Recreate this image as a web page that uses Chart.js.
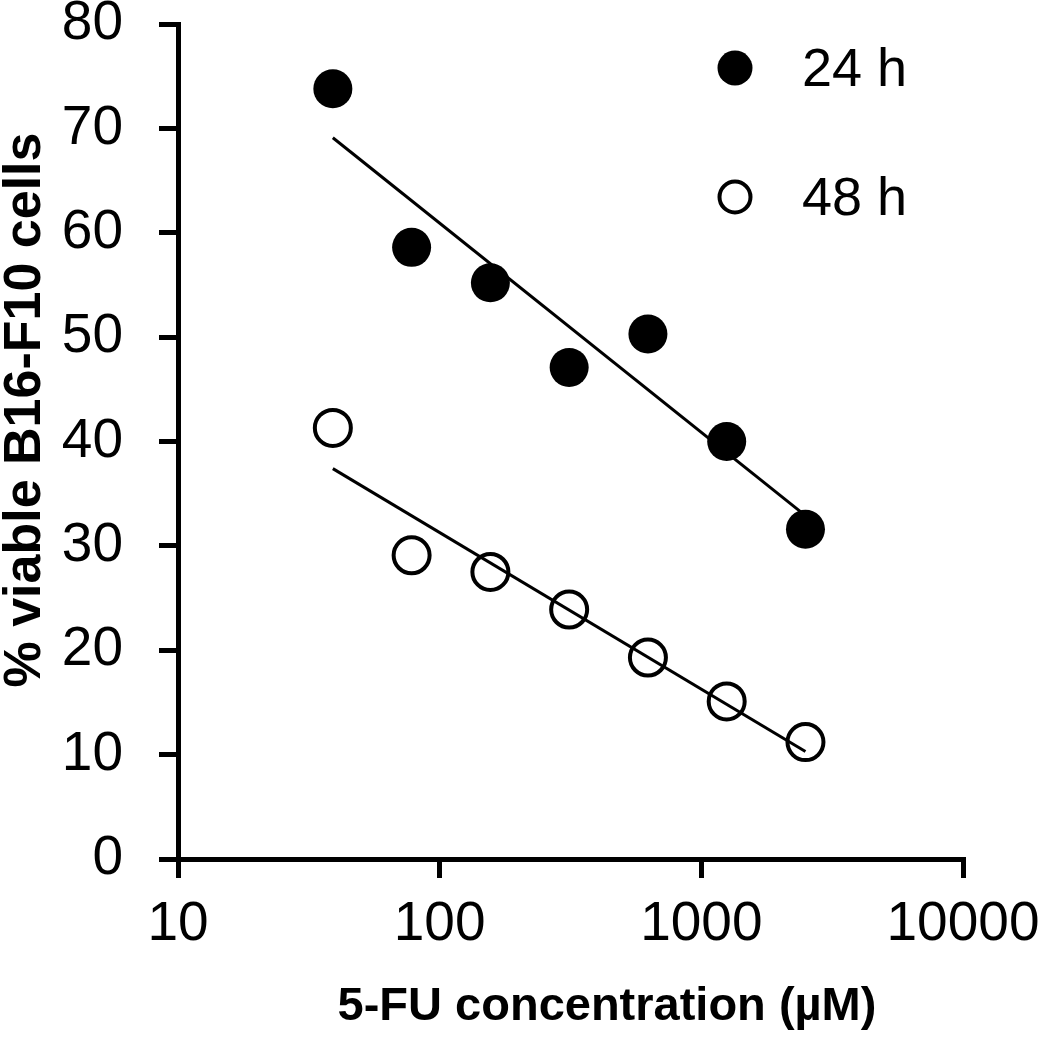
<!DOCTYPE html>
<html>
<head>
<meta charset="utf-8">
<script src="https://cdn.jsdelivr.net/npm/chart.js@4"></script>
<style>
  body { margin: 0; background: #fff; }
  #wrap { width: 1050px; height: 1039px; position: relative; }
</style>
</head>
<body>
<div id="wrap"><canvas id="chart"></canvas></div>
<script>
// data
const concentrations = [39.0625, 78.125, 156.25, 312.5, 625, 1250, 2500];
const viable24h = [73.8, 58.6, 55.2, 47.1, 50.3, 40.0, 31.6];
const viable48h = [41.3, 29.1, 27.5, 23.9, 19.3, 15.1, 11.2];
// fitted lines, endpoints at first and last concentration
const fitX = [39.0625, 2500];
const fit24h = [69.1, 32.9];
const fit48h = [37.4, 10.3];
const xTicks = [10, 100, 1000, 10000];
const seriesNames = ['24 h', '48 h'];

const FONT = "'Liberation Sans', Arial, sans-serif";

const toPoints = (xs, ys) => xs.map((x, i) => ({ x: x, y: ys[i] }));

// axis titles + legend drawn on top of the chart
const extras = {
  id: 'extras',
  afterDraw(chart) {
    const ctx = chart.ctx;
    ctx.save();
    ctx.fillStyle = '#000';
    ctx.textBaseline = 'alphabetic';

    // x title
    ctx.font = 'bold 47px ' + FONT;
    ctx.textAlign = 'center';
    ctx.fillText('5-FU concentration (µM)', 607, 1020);

    // y title
    ctx.save();
    ctx.translate(40, 410);
    ctx.rotate(-Math.PI / 2);
    ctx.font = 'bold 52px ' + FONT;
    ctx.fillText('% viable B16-F10 cells', 0, 0);
    ctx.restore();

    // legend
    const rows = [68, 197];
    ctx.font = '54px ' + FONT;
    ctx.textAlign = 'left';
    rows.forEach((cy, i) => {
      ctx.beginPath();
      if (i === 0) {
        ctx.arc(735, cy, 17.5, 0, Math.PI * 2);
        ctx.fill();
      } else {
        ctx.arc(735, cy, 15.5, 0, Math.PI * 2);
        ctx.lineWidth = 4;
        ctx.strokeStyle = '#000';
        ctx.stroke();
      }
      ctx.fillText(seriesNames[i], 802, cy + 18);
    });
    ctx.restore();
  }
};

const axisGrid = {
  drawOnChartArea: false,
  drawTicks: true,
  tickLength: 19,
  color: '#000',
  lineWidth: 5
};

new Chart(document.getElementById('chart'), {
  data: {
    datasets: [
      {
        type: 'scatter',
        label: seriesNames[0],
        data: toPoints(concentrations, viable24h),
        pointRadius: 19.5,
        pointBackgroundColor: '#000',
        pointBorderColor: '#000',
        pointBorderWidth: 0
      },
      {
        type: 'scatter',
        label: seriesNames[1],
        data: toPoints(concentrations, viable48h),
        pointRadius: 18,
        pointBackgroundColor: 'rgba(0,0,0,0)',
        pointBorderColor: '#000',
        pointBorderWidth: 4
      },
      {
        type: 'line',
        data: toPoints(fitX, fit24h),
        borderColor: '#000',
        borderWidth: 3,
        pointRadius: 0,
        fill: false
      },
      {
        type: 'line',
        data: toPoints(fitX, fit48h),
        borderColor: '#000',
        borderWidth: 3,
        pointRadius: 0,
        fill: false
      }
    ]
  },
  options: {
    responsive: true,
    maintainAspectRatio: false,
    animation: false,
    layout: { padding: { top: 24, right: 87, left: 0, bottom: 0 } },
    plugins: {
      legend: { display: false },
      tooltip: { enabled: false }
    },
    scales: {
      x: {
        type: 'logarithmic',
        min: 10,
        max: 10000,
        border: { color: '#000', width: 5 },
        grid: axisGrid,
        afterBuildTicks: (scale) => {
          scale.ticks = xTicks.map(v => ({ value: v }));
        },
        afterFit: (scale) => {
          scale.height = 180;
          scale.paddingLeft = 0;
          scale.paddingRight = 0;
        },
        ticks: {
          color: '#000',
          font: { family: FONT, size: 55 },
          padding: 14,
          maxRotation: 0,
          autoSkip: false,
          callback: (v) => String(v)
        }
      },
      y: {
        min: 0,
        max: 80,
        border: { color: '#000', width: 5 },
        grid: axisGrid,
        afterFit: (scale) => {
          scale.width = 178;
          scale.paddingTop = 0;
          scale.paddingBottom = 0;
        },
        ticks: {
          stepSize: 10,
          color: '#000',
          font: { family: FONT, size: 55 },
          padding: 36
        }
      }
    }
  },
  plugins: [extras]
});
</script>
</body>
</html>
